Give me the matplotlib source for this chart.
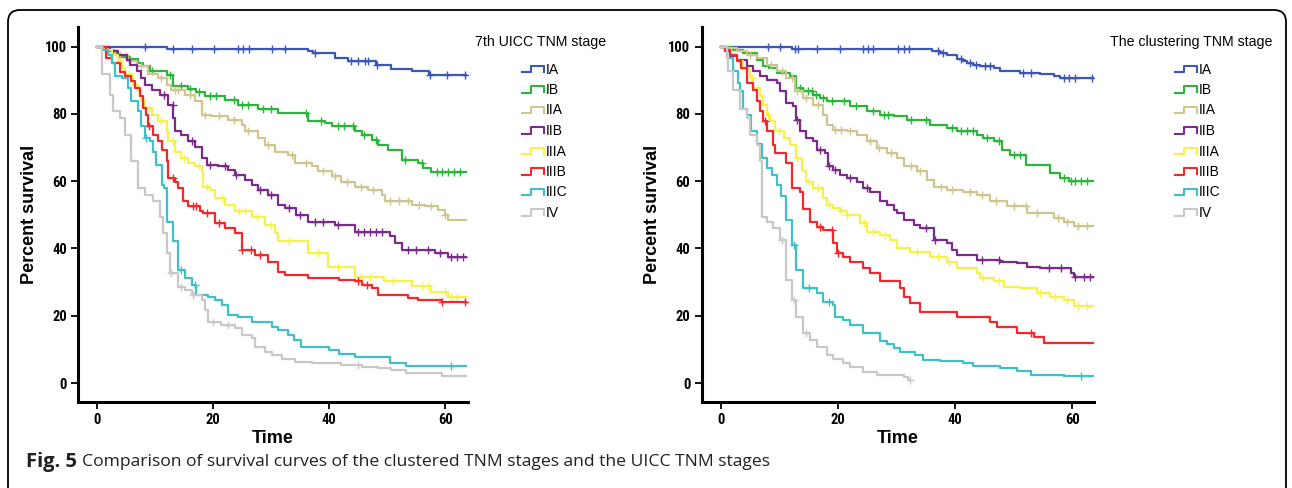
import numpy as np
import matplotlib
matplotlib.use('Agg')
import matplotlib.pyplot as plt
from matplotlib import font_manager
from matplotlib.lines import Line2D
from matplotlib.patches import FancyBboxPatch

stages = ['IA', 'IB', 'IIA', 'IIB', 'IIIA', 'IIIB', 'IIIC', 'IV']
colors = ['#3b55b8', '#2cb43c', '#cdc68f', '#7a2a8a', '#f6f24c', '#f4282c', '#3fc0c8', '#c8c8c8']

# ---- left panel: 7th UICC TNM stage (step times / survival after step / censor times)
uicc_ia_t = [0, 12.1, 36.3, 37.2, 41.0, 43.2, 48.0, 50.7, 54.2, 57.1]
uicc_ia_s = [100, 99.2, 98.6, 98.1, 96.6, 95.6, 94.4, 93.3, 92.6, 91.5]
uicc_ia_c = [8.2, 13.0, 16.3, 20.2, 24.2, 25.1, 26.1, 30.2, 32.4, 37.5, 43.7, 44.9, 46.1, 46.6, 48.3, 57.4, 60.2, 63.4]

uicc_ib_t = [0, 0.8, 2.5, 3.6, 5.6, 7.1, 7.9, 9.1, 12.0, 13.1, 15.7, 17.1, 18.6, 22.0, 24.3, 27.8, 31.2, 36.4, 39.3, 40.4,
             44.4, 45.6, 47.3, 48.4, 50.2, 52.5, 55.3, 56.2, 57.6]
uicc_ib_s = [100, 99.0, 98.0, 97.0, 96.3, 95.2, 94.1, 92.6, 91.5, 88.2, 87.5, 86.6, 85.2, 84.0, 82.7, 81.3, 80.4, 78.0, 77.3, 76.3,
             74.8, 73.8, 72.3, 70.8, 69.3, 66.4, 65.4, 63.9, 62.6]
uicc_ib_c = [5.0, 9.5, 12.5, 14.5, 16.0, 17.5, 19.5, 20.5, 23.5, 25.0, 26.0, 28.5, 30.0, 36.0, 38.5, 41.5, 42.5, 44.0,
             46.0, 48.0, 53.0, 56.0, 58.5, 59.5, 60.5, 61.5, 62.5]

uicc_iia_t = [0, 1.3, 3.0, 5.3, 6.8, 8.8, 10.5, 12.0, 12.8, 15.1, 16.8, 18.0, 19.7, 22.6, 24.9, 25.5, 27.8, 28.9, 30.6, 32.9,
              34.1, 37.0, 38.1, 40.4, 42.1, 44.4, 46.7, 49.0, 49.6, 54.2, 56.5, 58.8, 59.9, 60.5]
uicc_iia_s = [100, 99.0, 97.6, 95.6, 94.1, 91.7, 90.7, 88.7, 87.2, 85.7, 83.7, 79.8, 79.3, 78.3, 76.8, 74.8, 72.8, 70.8, 68.8, 67.9,
              65.4, 64.4, 62.9, 61.4, 59.9, 58.4, 57.4, 56.0, 54.0, 53.0, 52.5, 51.5, 50.0, 48.6]
uicc_iia_c = [4.0, 7.5, 11.0, 13.5, 14.0, 16.0, 18.5, 21.0, 23.5, 26.0, 29.5, 33.5, 36.0, 39.0, 41.0, 43.0, 45.5, 47.5,
              50.5, 52.0, 53.5, 55.5, 57.5, 60.0]

uicc_iib_t = [0, 2.2, 3.6, 5.1, 5.6, 6.8, 7.6, 8.2, 9.4, 10.8, 12.2, 13.1, 13.4, 14.5, 15.7, 16.8, 18.0, 18.9, 20.9, 22.6,
              23.7, 25.5, 26.6, 27.8, 29.5, 31.2, 32.4, 34.2, 36.4, 41.0, 44.4, 50.5, 51.3, 52.5, 58.2, 60.5]
uicc_iib_s = [100, 98.6, 97.6, 96.1, 94.6, 92.7, 90.7, 88.7, 87.2, 85.7, 82.7, 78.8, 74.8, 73.8, 71.8, 70.3, 66.9, 64.9, 64.4, 63.4,
              61.9, 60.4, 58.9, 57.4, 56.0, 53.0, 52.0, 50.0, 48.0, 47.0, 45.0, 43.6, 41.6, 39.6, 38.6, 37.6]
uicc_iib_c = [11.5, 13.0, 16.3, 19.5, 22.0, 24.0, 28.0, 30.0, 33.0, 35.0, 37.5, 39.0, 41.5, 45.0, 46.0, 47.0, 48.0, 49.0,
              53.5, 55.0, 57.0, 59.0, 61.0, 62.0, 63.0]

uicc_iiia_t = [0, 1.3, 2.5, 3.6, 4.2, 4.8, 6.2, 7.1, 7.6, 8.2, 9.4, 10.5, 12.0, 12.2, 13.4, 14.5, 15.7, 16.8, 18.0, 18.3,
               19.4, 20.3, 22.0, 23.7, 26.6, 28.9, 30.6, 31.2, 36.4, 39.8, 44.4, 49.5, 54.2, 57.6, 60.5]
uicc_iiia_s = [100, 99.0, 97.6, 95.6, 93.7, 91.7, 88.7, 86.7, 84.2, 81.7, 79.8, 77.8, 74.8, 71.8, 68.8, 66.9, 65.4, 64.4, 62.9, 58.4,
               57.4, 55.0, 53.0, 51.0, 49.5, 47.0, 44.5, 42.2, 38.6, 34.6, 31.6, 30.2, 29.0, 27.2, 25.7]
uicc_iiia_c = [5.5, 9.0, 11.0, 13.0, 15.0, 17.5, 19.0, 21.5, 24.5, 25.5, 27.5, 30.0, 33.0, 38.0, 41.5, 45.5, 47.0, 51.0,
               56.0, 57.0, 60.0, 61.0, 62.0]

uicc_iiib_t = [0, 1.5, 2.5, 4.0, 4.8, 5.9, 6.5, 7.4, 7.9, 8.5, 8.8, 9.7, 10.5, 11.1, 12.0, 12.2, 13.4, 14.0, 14.8, 15.7,
               17.7, 18.3, 20.3, 22.0, 23.7, 24.9, 27.2, 29.5, 31.2, 32.4, 36.4, 41.6, 44.4, 45.6, 47.3, 48.4, 53.6, 55.3, 59.4]
uicc_iiib_s = [100, 96.5, 95.0, 92.5, 91.2, 89.7, 87.7, 85.2, 81.7, 79.8, 76.3, 73.8, 71.8, 69.3, 65.9, 60.9, 59.9, 57.9, 54.0, 52.5,
               51.0, 50.5, 47.5, 46.0, 44.5, 39.6, 38.1, 36.1, 33.1, 32.1, 31.2, 30.7, 30.2, 29.2, 28.2, 26.2, 25.2, 24.7, 24.0]
uicc_iiib_c = [9.0, 13.0, 16.5, 17.0, 19.0, 21.0, 25.0, 26.5, 28.0, 45.0, 46.5, 59.5, 63.3]

uicc_iiic_t = [0, 1.0, 1.9, 2.5, 3.0, 4.3, 5.3, 5.9, 7.1, 7.6, 8.2, 9.1, 9.7, 10.2, 11.1, 11.6, 12.1, 13.1, 14.0, 15.1,
               16.3, 17.1, 19.1, 20.3, 21.5, 22.5, 24.3, 26.6, 30.1, 31.2, 32.9, 34.0, 35.2, 40.0, 41.6, 44.4, 50.5, 53.3]
uicc_iiic_s = [100, 99.0, 97.6, 95.1, 91.2, 90.7, 87.7, 83.7, 80.8, 76.3, 72.8, 71.8, 68.8, 64.9, 58.9, 57.9, 48.0, 42.1, 33.6, 31.2,
               29.2, 26.2, 25.7, 24.7, 23.2, 20.2, 19.7, 18.3, 16.8, 15.8, 14.3, 12.8, 10.6, 9.8, 8.8, 7.8, 5.9, 5.0]
uicc_iiic_c = [8.5, 14.5, 16.8, 61.0]

uicc_iv_t = [0, 0.9, 2.2, 2.8, 3.9, 4.8, 5.9, 7.1, 8.2, 9.7, 10.8, 11.4, 12.0, 12.5, 14.0, 15.1, 16.3, 18.0, 18.6, 19.1,
             21.4, 23.7, 24.9, 26.6, 27.2, 28.9, 30.1, 31.8, 34.1, 37.0, 42.1, 45.6, 48.4, 50.7, 53.3, 59.4]
uicc_iv_s = [100, 91.7, 85.7, 80.8, 78.8, 73.8, 65.9, 57.9, 56.0, 54.0, 49.5, 44.5, 38.6, 32.6, 28.7, 27.7, 26.2, 24.7, 21.7, 18.3,
             17.3, 16.3, 14.3, 13.3, 10.8, 9.3, 8.3, 7.3, 6.3, 5.9, 5.4, 4.9, 4.4, 3.9, 2.9, 2.0]
uicc_iv_c = [12.8, 14.5, 16.5, 20.0, 22.5, 45.0]

# ---- right panel: clustering TNM stage
clus_ia_t = [0, 12.1, 36.0, 37.4, 38.6, 40.3, 41.4, 42.0, 43.1, 44.3, 46.6, 47.7, 51.1, 54.5, 56.8, 57.9]
clus_ia_s = [100, 99.2, 98.8, 98.1, 97.6, 96.4, 95.6, 95.1, 94.6, 94.1, 93.5, 92.7, 92.2, 91.7, 91.2, 90.6]
clus_ia_c = [8.1, 10.1, 12.7, 13.2, 16.4, 20.3, 24.3, 25.2, 26.0, 30.3, 31.2, 32.1, 37.0, 38.0, 41.0, 42.5, 43.5, 45.0,
             46.0, 51.5, 53.0, 58.5, 59.5, 60.5, 63.3]

clus_ib_t = [0, 1.5, 2.1, 3.8, 6.1, 7.2, 8.3, 9.5, 11.8, 12.9, 14.1, 15.8, 16.9, 18.1, 22.1, 24.9, 27.2, 29.5, 31.7, 35.7,
             38.6, 40.3, 43.7, 44.8, 46.6, 48.0, 49.4, 52.0, 56.2, 57.9, 59.5]
clus_ib_s = [100, 99.6, 99.0, 98.1, 96.1, 94.1, 93.5, 92.2, 91.2, 87.7, 86.7, 85.7, 84.7, 83.7, 82.2, 80.8, 79.8, 79.3, 78.3, 76.8,
             75.8, 74.8, 73.8, 72.8, 71.8, 69.3, 67.9, 64.9, 62.4, 60.9, 60.2]
clus_ib_c = [13.5, 14.8, 15.5, 16.3, 17.5, 19.0, 21.0, 23.0, 26.0, 27.8, 28.5, 32.5, 35.0, 39.5, 41.0, 42.0, 43.0, 45.5,
             47.5, 50.0, 51.0, 58.5, 59.8, 60.5, 61.5, 62.5]

clus_iia_t = [0, 1.0, 2.7, 4.4, 6.1, 7.8, 9.5, 11.2, 12.6, 14.1, 15.8, 17.5, 18.1, 19.2, 21.5, 23.2, 24.9, 26.6, 28.3, 30.0,
              31.2, 33.4, 35.2, 36.3, 38.6, 41.4, 43.7, 46.0, 48.8, 52.3, 56.8, 58.5, 60.2]
clus_iia_s = [100, 99.6, 98.6, 97.6, 96.6, 94.6, 92.7, 90.7, 86.7, 84.7, 82.7, 79.8, 76.8, 75.3, 74.8, 73.8, 71.8, 69.8, 68.4, 66.9,
              64.4, 62.9, 60.4, 58.4, 57.4, 56.9, 56.0, 54.0, 52.5, 50.5, 49.0, 48.0, 46.8]
clus_iia_c = [5.0, 8.5, 10.5, 12.2, 13.0, 14.5, 16.5, 19.5, 20.5, 22.0, 25.5, 27.0, 29.0, 32.5, 34.0, 37.5, 39.5, 42.5,
              44.5, 47.0, 50.0, 52.0, 54.0, 57.5, 59.0, 61.0, 62.5]

clus_iib_t = [0, 0.7, 1.5, 2.7, 4.4, 5.5, 6.7, 7.8, 9.5, 10.1, 11.2, 12.4, 12.9, 13.5, 14.6, 15.8, 16.4, 17.8, 18.3, 19.2,
              20.3, 21.5, 23.2, 24.3, 25.5, 27.2, 28.3, 29.5, 30.0, 31.2, 32.9, 34.0, 36.3, 38.6, 39.4, 40.3, 43.7, 47.7,
              50.5, 52.3, 54.5, 59.7, 60.2]
clus_iib_s = [100, 98.6, 97.1, 96.0, 94.1, 92.7, 91.2, 90.2, 89.2, 86.7, 83.2, 82.2, 78.3, 74.8, 72.8, 71.8, 69.3, 68.4, 64.4, 63.4,
              61.9, 60.9, 59.9, 57.9, 56.9, 54.0, 53.0, 51.5, 50.5, 48.5, 47.0, 46.0, 42.6, 41.6, 39.6, 38.1, 36.6, 36.1,
              35.6, 34.6, 34.1, 32.6, 31.4]
clus_iib_c = [13.0, 17.0, 18.5, 19.5, 22.0, 25.0, 35.0, 36.5, 44.5, 47.5, 56.0, 58.0, 60.5, 62.0, 63.0]

clus_iiia_t = [0, 1.0, 1.8, 2.7, 3.8, 5.0, 5.5, 6.7, 7.2, 7.8, 8.4, 9.2, 10.7, 11.8, 12.9, 13.8, 14.6, 15.8, 17.5, 18.1,
               19.2, 20.3, 21.5, 23.8, 24.9, 27.2, 28.9, 30.0, 32.3, 35.7, 38.6, 40.3, 43.7, 44.3, 46.6, 48.3, 51.1, 54.0,
               56.2, 58.5, 60.2]
clus_iiia_s = [100, 99.0, 97.6, 95.6, 93.2, 90.7, 87.7, 85.2, 82.7, 79.8, 77.8, 74.8, 72.8, 70.8, 66.9, 62.9, 59.9, 57.9, 55.0, 53.0,
               52.0, 51.0, 50.0, 47.5, 45.0, 44.0, 42.6, 40.1, 39.1, 37.6, 36.1, 34.1, 32.6, 31.2, 30.2, 28.7, 28.2, 26.7,
               25.7, 24.7, 22.9]
clus_iiia_c = [5.3, 8.0, 10.0, 13.0, 15.0, 16.5, 18.5, 20.5, 21.5, 24.5, 26.0, 28.0, 33.5, 37.0, 39.0, 44.8, 47.5, 54.5,
               57.0, 59.0, 61.0, 62.5]

clus_iiib_t = [0, 0.7, 1.5, 2.7, 3.5, 4.4, 5.5, 6.1, 6.7, 7.2, 7.8, 8.9, 9.2, 11.2, 12.1, 13.5, 14.1, 15.2, 16.4, 17.5,
               19.2, 19.8, 20.9, 22.1, 24.3, 25.5, 27.2, 30.6, 31.2, 32.3, 34.0, 40.3, 46.0, 47.1, 50.5, 53.4, 55.1]
clus_iiib_s = [100, 99.0, 97.6, 95.6, 93.7, 89.2, 87.2, 83.7, 80.8, 77.8, 74.8, 70.8, 68.4, 65.4, 57.9, 56.9, 51.8, 48.0, 46.5, 45.5,
               41.6, 38.6, 37.6, 36.1, 34.1, 32.6, 30.2, 28.2, 25.7, 23.7, 21.2, 19.7, 18.3, 16.8, 14.8, 13.8, 12.0]
clus_iiib_c = [7.5, 17.0, 19.0, 20.0, 53.0]

clus_iiic_t = [0, 1.0, 2.1, 3.0, 3.2, 3.8, 4.4, 5.2, 6.1, 7.0, 7.8, 8.7, 9.5, 10.2, 11.1, 12.1, 12.9, 14.1, 16.4, 17.5,
               19.2, 19.5, 20.9, 22.1, 24.3, 27.2, 28.3, 29.5, 30.6, 33.2, 34.5, 37.4, 41.4, 43.1, 47.7, 50.5, 53.0, 58.5]
clus_iiic_s = [100, 96.6, 92.7, 89.2, 86.7, 81.3, 79.8, 74.8, 71.0, 66.9, 63.9, 61.9, 58.9, 55.5, 48.5, 41.1, 33.6, 28.2, 26.7, 24.2,
               23.2, 19.7, 18.8, 17.3, 15.0, 12.5, 11.5, 10.3, 9.3, 8.3, 7.0, 6.5, 5.9, 5.0, 4.5, 3.5, 2.5, 2.0]
clus_iiic_c = [12.5, 15.0, 18.5, 61.5]

clus_iv_t = [0, 1.0, 1.25, 2.1, 3.2, 4.4, 5.0, 6.1, 6.7, 7.0, 7.8, 8.9, 10.1, 11.2, 12.1, 12.9, 14.1, 15.2, 16.4, 18.1,
             19.2, 20.9, 22.1, 24.3, 26.6, 31.2, 32.0]
clus_iv_s = [100, 96.6, 92.7, 87.2, 81.3, 78.8, 73.8, 70.8, 65.9, 49.5, 48.0, 46.0, 42.6, 30.7, 24.7, 19.7, 14.8, 12.8, 10.8, 8.3,
             7.3, 5.9, 4.9, 3.4, 2.4, 1.9, 0.9]
clus_iv_c = [10.5, 12.5, 14.5, 32.2]

uicc_curves = [(uicc_ia_t, uicc_ia_s, uicc_ia_c, 63.5), (uicc_ib_t, uicc_ib_s, uicc_ib_c, 63.5),
               (uicc_iia_t, uicc_iia_s, uicc_iia_c, 63.5), (uicc_iib_t, uicc_iib_s, uicc_iib_c, 63.5),
               (uicc_iiia_t, uicc_iiia_s, uicc_iiia_c, 63.5), (uicc_iiib_t, uicc_iiib_s, uicc_iiib_c, 63.5),
               (uicc_iiic_t, uicc_iiic_s, uicc_iiic_c, 63.5), (uicc_iv_t, uicc_iv_s, uicc_iv_c, 63.5)]
clus_curves = [(clus_ia_t, clus_ia_s, clus_ia_c, 63.5), (clus_ib_t, clus_ib_s, clus_ib_c, 63.5),
               (clus_iia_t, clus_iia_s, clus_iia_c, 63.5), (clus_iib_t, clus_iib_s, clus_iib_c, 63.5),
               (clus_iiia_t, clus_iiia_s, clus_iiia_c, 63.5), (clus_iiib_t, clus_iiib_s, clus_iiib_c, 63.5),
               (clus_iiic_t, clus_iiic_s, clus_iiic_c, 63.5), (clus_iv_t, clus_iv_s, clus_iv_c, 32.3)]

W, H = 1292, 488

# pick a condensed face for the tick numbers if one is installed
avail = {f.name for f in font_manager.fontManager.ttflist}
narrow = next((n for n in ['Liberation Sans Narrow', 'Arial Narrow', 'Roboto Condensed', 'Open Sans Condensed']
               if n in avail), None)
tick_font = narrow if narrow else 'Liberation Sans'
tick_size = 10.5 if narrow else 8.5


def km_panel(ax, curves, xmax):
    for (t, s, c, tend), col in zip(curves, colors):
        t = np.array(t, float)
        s = np.array(s, float)
        ax.step(np.append(t, tend), np.append(s, s[-1]), where='post', color=col, lw=1.6)
        c = np.array(c, float)
        idx = np.searchsorted(t, c, side='right') - 1
        ax.plot(c, s[idx], ls='none', marker='+', ms=6, mew=1.0, color=col)
    ax.set_xlim(-3.3, xmax)
    ax.set_ylim(-5.6, 105.8)
    ax.set_xticks([0, 20, 40, 60])
    ax.set_yticks([0, 20, 40, 60, 80, 100])
    for sp in ['top', 'right']:
        ax.spines[sp].set_visible(False)
    for sp in ['left', 'bottom']:
        ax.spines[sp].set_linewidth(2.2)
    ax.tick_params(direction='out', length=5, width=1.3, pad=3)
    for lab in ax.get_xticklabels() + ax.get_yticklabels():
        lab.set_family(tick_font)
        lab.set_weight('bold')
        lab.set_size(tick_size)
    ax.set_xlabel('Time', fontsize=13, weight='bold', family='Liberation Sans', labelpad=2)
    ax.set_ylabel('Percent survival', fontsize=13, weight='bold', family='Liberation Sans', labelpad=5)


def legend_block(title, tx, kx):
    # SPSS style legend: title, then a small step key and the stage name per row (pixel positions)
    fig.text(tx / W, 1 - 42 / H, title, family='Liberation Sans', fontsize=10.2, va='center', ha='left')
    for i, (lab, col) in enumerate(zip(stages, colors)):
        yc = 69.5 + i * 20.5
        xs = kx + np.array([0, 9, 9, 22, 22])
        ys = yc + np.array([2.8, 2.8, -3.8, -3.8, 2.4])
        fig.add_artist(Line2D(xs / W, 1 - ys / H, transform=fig.transFigure, color=col, lw=1.5))
        fig.text((kx + 24) / W, 1 - yc / H, lab, family='Liberation Sans', fontsize=10, va='center', ha='left')


fig = plt.figure(figsize=(W / 100, H / 100), dpi=100)

ax1 = fig.add_axes([78 / W, 86 / H, 390 / W, 375 / H])
km_panel(ax1, uicc_curves, 63.9)
ax2 = fig.add_axes([701.5 / W, 86 / H, 392 / W, 375 / H])
km_panel(ax2, clus_curves, 63.6)

legend_block('7th UICC TNM stage', 475, 522)
legend_block('The clustering TNM stage', 1110, 1175)

# rounded frame around the figure (bottom edge cut off)
frame = FancyBboxPatch((0.08, -0.4), 12.78, 5.18, boxstyle='round,pad=0,rounding_size=0.12',
                       transform=fig.dpi_scale_trans, fill=False, ec='black', lw=1.3)
fig.add_artist(frame)

cap1 = fig.text(26 / W, 1 - 462 / H, 'Fig. 5', family='Open Sans', weight='bold', fontsize=14.5, va='center', color='#231f20')
fig.canvas.draw()
bb = cap1.get_window_extent(fig.canvas.get_renderer())
fig.text((bb.x1 + 5) / W, 1 - 462 / H, 'Comparison of survival curves of the clustered TNM stages and the UICC TNM stages',
         family='Open Sans', fontsize=12.6, va='center', color='#231f20')

fig.savefig('out.png', dpi=100)
